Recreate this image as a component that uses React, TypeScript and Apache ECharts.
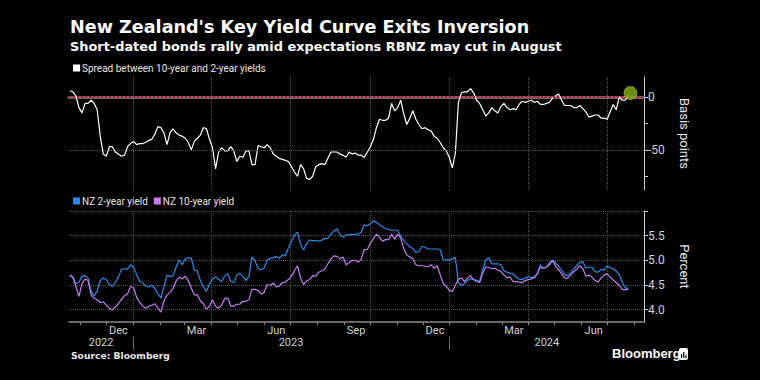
import React, { useEffect, useRef } from "react";
import * as echarts from "echarts";

const DAY = 86400000;
// Observations every 3.5 days, starting 20 Oct 2022
const START = Date.UTC(2022, 9, 20);
const STEP_DAYS = 3.5;

// Spread between 10-year and 2-year yields (basis points)
const spreadBp = [
  6, 5, 1, -10, -15, -6, -6, -3, -6, -12,
  -37, -54, -56, -47, -47, -52, -54, -56, -55, -47,
  -44, -42, -45, -44, -44, -43, -41, -40, -35, -28,
  -29, -34, -45, -34, -30, -34, -36, -37, -39, -43,
  -50, -42, -39, -36, -29, -30, -40, -48, -68, -52,
  -48, -51, -51, -47, -51, -61, -56, -57, -51, -51,
  -64, -64, -46, -47, -48, -45, -48, -54, -56, -58,
  -59, -60, -61, -66, -71, -75, -64, -68, -77, -78,
  -75, -66, -64, -63, -64, -58, -52, -52, -52, -54,
  -55, -57, -52, -54, -53, -55, -55, -57, -52, -47,
  -40, -29, -21, -22, -22, -20, -6, -13, -10, -3,
  -16, -26, -20, -13, -21, -26, -30, -29, -31, -32,
  -37, -39, -43, -48, -51, -57, -67, -53, -5, 4,
  5, 5, 8, 4, -3, -6, -12, -18, -15, -10,
  -13, -15, -9, -6, -10, -12, -11, -12, -7, -4,
  -5, -4, -3, -5, -4, -7, -7, -6, -5, -1,
  1, 3, -3, -8, -8, -8, -10, -10, -8, -11,
  -14, -19, -18, -17, -17, -20, -20, -21, -14, -7,
  -12, 0, -3, -3, 2,
];

// NZ 2-year yield (percent)
const nz2y = [
  4.68, 4.66, 4.53, 4.55, 4.68, 4.69, 4.64, 4.37, 4.28, 4.37,
  4.59, 4.64, 4.61, 4.51, 4.47, 4.56, 4.66, 4.82, 4.83, 4.82,
  4.91, 4.86, 4.71, 4.57, 4.55, 4.47, 4.46, 4.49, 4.43, 4.32,
  4.24, 4.47, 4.7, 4.67, 4.69, 4.86, 5.01, 4.91, 5.03, 5.05,
  5.05, 4.8, 4.78, 4.59, 4.46, 4.37, 4.52, 4.62, 4.66, 4.62,
  4.57, 4.68, 4.73, 4.57, 4.55, 4.7, 4.74, 4.68, 4.59, 4.68,
  5.07, 4.98, 4.84, 4.81, 4.84, 5.01, 5.04, 5.05, 5.08, 5.04,
  5.11, 5.1, 5.25, 5.38, 5.5, 5.57, 5.32, 5.21, 5.34, 5.41,
  5.4, 5.4, 5.39, 5.41, 5.44, 5.45, 5.53, 5.59, 5.64, 5.52,
  5.47, 5.51, 5.52, 5.52, 5.52, 5.53, 5.57, 5.72, 5.7, 5.74,
  5.8, 5.77, 5.72, 5.68, 5.64, 5.63, 5.61, 5.61, 5.61, 5.49,
  5.4, 5.33, 5.28, 5.24, 5.16, 5.18, 5.28, 5.27, 5.23, 5.23,
  5.23, 5.23, 5.22, 5.01, 5.01, 5.01, 5.03, 5.06, 4.55, 4.49,
  4.53, 4.59, 4.63, 4.61, 4.6, 4.57, 4.81, 5.01, 5.05, 4.93,
  4.93, 4.93, 4.91, 4.79, 4.76, 4.74, 4.73, 4.66, 4.62, 4.61,
  4.64, 4.66, 4.66, 4.64, 4.73, 4.91, 4.84, 4.86, 4.95, 5.0,
  4.95, 4.88, 4.8, 4.71, 4.69, 4.74, 4.83, 4.89, 4.96, 4.97,
  4.84, 4.86, 4.86, 4.77, 4.76, 4.81, 4.8, 4.89, 4.85, 4.83,
  4.78, 4.71, 4.55, 4.44, 4.43,
];

// NZ 10-year yield (percent)
const nz10y = [
  4.71, 4.65, 4.47, 4.27, 4.53, 4.62, 4.59, 4.3, 4.23, 4.2,
  4.14, 4.16, 4.09, 4.03, 4.0, 4.06, 4.12, 4.21, 4.28, 4.32,
  4.47, 4.45, 4.25, 4.15, 4.07, 4.03, 4.07, 4.09, 4.12, 4.03,
  3.95, 4.17, 4.3, 4.35, 4.43, 4.58, 4.66, 4.62, 4.68, 4.59,
  4.44, 4.3, 4.3, 4.18, 4.12, 4.01, 4.07, 4.2, 4.07, 4.03,
  4.09, 4.22, 4.24, 4.07, 4.07, 4.11, 4.11, 4.17, 4.17, 4.2,
  4.41, 4.41, 4.39, 4.32, 4.35, 4.51, 4.49, 4.54, 4.46, 4.48,
  4.55, 4.56, 4.61, 4.68, 4.79, 4.89, 4.64, 4.51, 4.58, 4.61,
  4.69, 4.68, 4.76, 4.79, 4.82, 4.93, 5.03, 5.09, 5.08, 5.03,
  5.07, 4.91, 4.95, 5.0, 5.0, 4.96, 5.03, 5.22, 5.22, 5.34,
  5.44, 5.53, 5.47, 5.39, 5.42, 5.42, 5.53, 5.43, 5.53, 5.45,
  5.24, 5.11, 5.07, 5.03, 4.91, 4.89, 4.89, 4.88, 4.87, 4.91,
  4.84, 4.89, 4.71, 4.53, 4.47, 4.39, 4.37, 4.49, 4.62, 4.64,
  4.57, 4.64, 4.69, 4.61, 4.57, 4.55, 4.74, 4.87, 4.86, 4.83,
  4.84, 4.8, 4.78, 4.7, 4.65, 4.66, 4.57, 4.57, 4.56, 4.55,
  4.59, 4.61, 4.62, 4.66, 4.73, 4.86, 4.84, 4.86, 4.91, 5.0,
  4.88, 4.81, 4.73, 4.64, 4.64, 4.7, 4.77, 4.82, 4.89, 4.83,
  4.68, 4.7, 4.66, 4.59, 4.56, 4.64, 4.7, 4.73, 4.66, 4.6,
  4.55, 4.49, 4.41, 4.4, 4.42,
];

const dates = spreadBp.map((_, i) => START + i * STEP_DAYS * DAY);

const X_MIN = Date.UTC(2022, 9, 19);
const X_MAX = Date.UTC(2024, 7, 12);

const quarterStarts = [
  Date.UTC(2023, 0, 1), Date.UTC(2023, 3, 1), Date.UTC(2023, 6, 1), Date.UTC(2023, 9, 1),
  Date.UTC(2024, 0, 1), Date.UTC(2024, 3, 1), Date.UTC(2024, 6, 1),
];
const monthStarts: number[] = [];
for (let m = 10; m <= 19 + 12; m++) {
  monthStarts.push(Date.UTC(2022 + Math.floor(m / 12), m % 12, 1));
}
const monthLabelText = ["Dec", "Mar", "Jun", "Sep", "Dec", "Mar", "Jun"];
const monthLabelDates = [
  Date.UTC(2022, 11, 15), Date.UTC(2023, 2, 15), Date.UTC(2023, 5, 15), Date.UTC(2023, 8, 15),
  Date.UTC(2023, 11, 15), Date.UTC(2024, 2, 15), Date.UTC(2024, 5, 15),
];
const yearLabelText = ["2022", "2023", "2024"];
const yearLabelDates = [Date.UTC(2022, 10, 25), Date.UTC(2023, 6, 2), Date.UTC(2024, 3, 22)];
const yearBreaks = [Date.UTC(2023, 0, 1), Date.UTC(2024, 0, 1)];

const spreadTicks = [-75, -50, -25, 0];
const spreadLabels = [-50, 0];
const yieldTicks = [4, 4.5, 5, 5.5, 6];
const yieldLabels = [4, 4.5, 5, 5.5];

const lookup = (vals: number[], texts: string[]) => (v: number) => {
  const k = vals.findIndex((d) => Math.abs(d - v) < DAY);
  return k >= 0 ? texts[k] : "";
};

const FONT = "Roboto";
const HEAD_FONT = "DejaVu Sans";
const GRID_LINE = { color: "#575757", type: "dotted" as const, width: 1 };
const AXIS_TXT = "#d2d2d2";

export default function App() {
  const ref = useRef<HTMLDivElement>(null);
  useEffect(() => {
    if (!ref.current) return;
    const chart = echarts.init(ref.current, undefined, { renderer: "svg" });
    const last = dates.length - 1;
    chart.setOption({
      animation: false,
      backgroundColor: "#000000",
      textStyle: { fontFamily: FONT },
      title: [
        {
          text: "New Zealand's Key Yield Curve Exits Inversion",
          left: 70, top: 18, padding: 0,
          textStyle: { color: "#ffffff", fontSize: 17.6, fontWeight: "bold", fontFamily: HEAD_FONT },
        },
        {
          text: "Short-dated bonds rally amid expectations RBNZ may cut in August",
          left: 70, top: 39.5, padding: 0,
          textStyle: { color: "#ffffff", fontSize: 12.9, fontWeight: "bold", fontFamily: HEAD_FONT },
        },
        {
          text: "Source: Bloomberg",
          left: 71, top: 351, padding: 0,
          textStyle: { color: "#e6e6e6", fontSize: 9.2, fontWeight: "bold", fontFamily: HEAD_FONT },
        },
      ],
      legend: [
        {
          data: ["Spread between 10-year and 2-year yields"],
          left: 73, top: 63, padding: 0, itemGap: 8,
          icon: "rect", itemWidth: 7, itemHeight: 7,
          textStyle: { color: "#e6e6e6", fontSize: 10, padding: [0, 0, 0, -3] },
          selectedMode: false,
        },
        {
          data: ["NZ 2-year yield", "NZ 10-year yield"],
          left: 73, top: 196, padding: 0, itemGap: 6,
          icon: "rect", itemWidth: 7, itemHeight: 7,
          textStyle: { color: "#e6e6e6", fontSize: 10, padding: [0, 0, 0, -3] },
          selectedMode: false,
        },
      ],
      grid: [
        { left: 69, width: 575, top: 77, height: 113 },
        { left: 69, width: 575, top: 211, height: 111 },
      ],
      xAxis: [
        {
          type: "value", gridIndex: 0, min: X_MIN, max: X_MAX, position: "bottom",
          axisLine: { show: true, lineStyle: { color: "#6a6a6a", width: 3 } },
          axisTick: { show: false, customValues: quarterStarts },
          axisLabel: { show: false },
          splitLine: { show: true, lineStyle: GRID_LINE },
        },
        {
          type: "value", gridIndex: 1, min: X_MIN, max: X_MAX, position: "bottom",
          axisLine: { show: true, lineStyle: { color: "#8a8a8a", width: 1.5 } },
          axisTick: { show: false, customValues: quarterStarts },
          axisLabel: {
            show: true, customValues: monthLabelDates, formatter: lookup(monthLabelDates, monthLabelText),
            color: AXIS_TXT, fontSize: 11, margin: 3,
          },
          splitLine: { show: true, lineStyle: GRID_LINE },
        },
        {
          type: "value", gridIndex: 1, min: X_MIN, max: X_MAX, position: "bottom",
          axisLine: { show: false },
          axisTick: { show: true, customValues: monthStarts, length: 3, lineStyle: { color: "#8a8a8a" } },
          axisLabel: { show: false },
          splitLine: { show: false },
        },
        {
          type: "value", gridIndex: 1, min: X_MIN, max: X_MAX, position: "bottom", offset: 15,
          axisLine: { show: false },
          axisTick: { show: true, customValues: yearBreaks, length: 13, lineStyle: { color: "#6a6a6a" } },
          axisLabel: {
            show: true, customValues: yearLabelDates, formatter: lookup(yearLabelDates, yearLabelText),
            color: AXIS_TXT, fontSize: 11, margin: 0,
          },
          splitLine: { show: false },
        },
      ],
      yAxis: [
        {
          type: "value", gridIndex: 0, position: "right", min: -88, max: 19,
          axisLine: { show: true, lineStyle: { color: "#cfcfcf", width: 1 } },
          axisTick: { show: true, customValues: spreadTicks, length: 4, lineStyle: { color: "#cfcfcf" } },
          axisLabel: { customValues: spreadLabels, color: AXIS_TXT, fontSize: 12, margin: 4 },
          splitLine: { show: false },
          name: "Basis points", nameLocation: "middle", nameRotate: -90, nameGap: 34,
          nameTextStyle: { color: "#e6e6e6", fontSize: 13 },
        },
        {
          type: "value", gridIndex: 1, position: "right", min: 3.75, max: 6,
          axisLine: { show: true, lineStyle: { color: "#cfcfcf", width: 1 } },
          axisTick: { show: true, customValues: yieldTicks, length: 4, lineStyle: { color: "#cfcfcf" } },
          axisLabel: {
            customValues: yieldLabels, color: AXIS_TXT, fontSize: 12, margin: 4,
            formatter: (v: number) => v.toFixed(1),
          },
          splitLine: { show: true, lineStyle: GRID_LINE },
          name: "Percent", nameLocation: "middle", nameRotate: -90, nameGap: 34,
          nameTextStyle: { color: "#e6e6e6", fontSize: 13 },
        },
      ],
      series: [
        {
          name: "Spread between 10-year and 2-year yields",
          type: "line", xAxisIndex: 0, yAxisIndex: 0,
          data: dates.map((d, i) => [d, spreadBp[i]]),
          showSymbol: false, color: "#ffffff",
          lineStyle: { color: "#ffffff", width: 1.2 },
          z: 3,
          markLine: {
            silent: true, symbol: ["none", "none"], label: { show: false },
            data: [
              { yAxis: 0, lineStyle: { color: "#c8143c", type: "dotted", width: 2 } },
              { yAxis: -50, lineStyle: GRID_LINE },
            ],
          },
          markPoint: {
            silent: true,
            symbol: "circle", symbolSize: 13, symbolOffset: [2, -2],
            label: { show: false },
            itemStyle: { color: "rgba(125,165,10,0.85)", borderColor: "#cde445", borderWidth: 1, borderType: "dotted" },
            data: [{ coord: [dates[last], spreadBp[last]] }],
          },
        },
        {
          name: "NZ 2-year yield",
          type: "line", xAxisIndex: 1, yAxisIndex: 1,
          data: dates.map((d, i) => [d, nz2y[i]]),
          showSymbol: false, color: "#2d8be6",
          lineStyle: { color: "#2d8be6", width: 1.2 },
        },
        {
          name: "NZ 10-year yield",
          type: "line", xAxisIndex: 1, yAxisIndex: 1,
          data: dates.map((d, i) => [d, nz10y[i]]),
          showSymbol: false, color: "#c47ef2",
          lineStyle: { color: "#c47ef2", width: 1.2 },
        },
      ],
      graphic: [
        {
          type: "text", left: 612, top: 347,
          style: { text: "Bloomberg", fill: "#ffffff", font: '600 13px "Liberation Sans"' },
        },
        { type: "rect", shape: { x: 679, y: 348, width: 9, height: 12, r: 2 }, style: { fill: "#ffffff" } },
        { type: "rect", shape: { x: 681, y: 354, width: 1.2, height: 4 }, style: { fill: "#000000" } },
        { type: "rect", shape: { x: 683.2, y: 352, width: 1.2, height: 6 }, style: { fill: "#000000" } },
        { type: "rect", shape: { x: 685.4, y: 355, width: 1.2, height: 3 }, style: { fill: "#000000" } },
      ],
    });
    return () => chart.dispose();
  }, []);
  return (
    <div
      ref={ref}
      style={{ position: "fixed", left: 0, top: 0, width: 760, height: 380, background: "#000" }}
    />
  );
}
